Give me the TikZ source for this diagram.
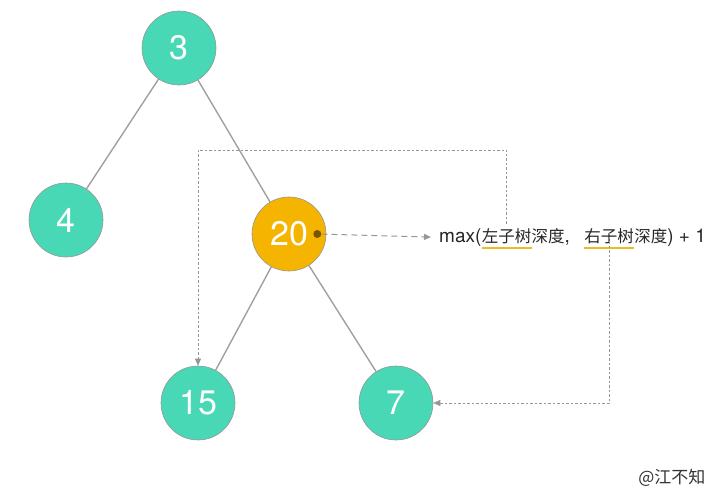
\documentclass[tikz,border=0pt]{standalone}
\usepackage{fontspec}
\setmainfont{TeX Gyre Heros}
\newfontfamily\cjk{Noto Sans CJK SC}
\usetikzlibrary{arrows.meta, positioning}
\definecolor{treeteal}{RGB}{72,216,181}
\definecolor{treeorange}{RGB}{245,180,0}
\definecolor{treegray}{RGB}{150,150,150}
\definecolor{treeline}{RGB}{160,160,160}
\definecolor{dotbrown}{RGB}{120,86,0}
\definecolor{markyellow}{RGB}{232,190,40}
\tikzset{
    % Node styles
    tree node/.style={
        circle,
        draw=treegray,
        line width=0.6pt,
        fill=treeteal,
        minimum size=74pt,
        inner sep=0pt,
        text=white,
        font=\fontsize{34}{40}\selectfont
    },
    hot node/.style={
        tree node,
        fill=treeorange
    },
    expr/.style={
        inner sep=0pt,
        anchor=base west,
        text=black!85,
        font=\fontsize{19}{22}\selectfont
    },
    % Line styles
    tree edge/.style={
        draw=treeline,
        line width=1.4pt
    },
    calc arrow/.style={
        -{Triangle[length=7pt,width=6pt]},
        draw=treegray,
        line width=1pt,
        dash pattern=on 6pt off 4pt
    },
    ref arrow/.style={
        -{Triangle[length=7pt,width=6pt]},
        draw=treegray,
        line width=0.7pt,
        dash pattern=on 2.5pt off 2pt
    },
    mark line/.style={
        draw=markyellow,
        line width=1.2pt
    }
}
\newcommand{\cjkt}{\cjk\fontsize{16.5}{20}\selectfont}

\begin{document}
\begin{tikzpicture}[x=1pt, y=-1pt]
    \useasboundingbox (0,0) rectangle (724,490);

    % Tree
    \node[tree node] (n3) at (179,48) {3};
    \node[tree node] (n4) at (66,220) {4};
    \node[hot node] (n20) at (289,234) {20};
    \node[tree node] (n15) at (198,403) {15};
    \node[tree node] (n7) at (396,403) {7};

    \draw[tree edge] (n3) -- (n4);
    \draw[tree edge] (n3) -- (n20);
    \draw[tree edge] (n20) -- (n15);
    \draw[tree edge] (n20) -- (n7);

    % Formula
    \node[expr] (m1) at (439,242) {max(};
    \node[expr] (lsub) at (m1.base east) {\cjkt 左子树};
    \node[expr] (m2) at (lsub.base east) {{\cjkt 深度},};
    \node[expr] (rsub) at ([xshift=14pt]m2.base east) {\cjkt 右子树};
    \node[expr] (m3) at (rsub.base east) {{\cjkt 深度}) + 1};

    \draw[mark line] ([yshift=-6pt]lsub.base west) -- ([yshift=-6pt]lsub.base east);
    \draw[mark line] ([yshift=-6pt]rsub.base west) -- ([yshift=-6pt]rsub.base east);

    % Arrows
    \node[circle, fill=dotbrown, inner sep=0pt, minimum size=8pt] (dot) at ([xshift=-9pt]n20.east) {};
    \draw[calc arrow] (dot) -- ([xshift=-8pt]m1.west);

    \coordinate (top) at (0,150);
    \draw[ref arrow] ([yshift=4pt]lsub.north) -- (lsub.north |- top) -- (n15.north |- top) -- (n15.north);
    \draw[ref arrow] ([yshift=10pt]rsub.base) -- (rsub.base |- n7.east) -- (n7.east);

    % Watermark
    \node[font=\cjk\fontsize{17}{20}\selectfont, text=black!80, anchor=east] (mark) at (709,478) {@江不知};
\end{tikzpicture}
\end{document}
